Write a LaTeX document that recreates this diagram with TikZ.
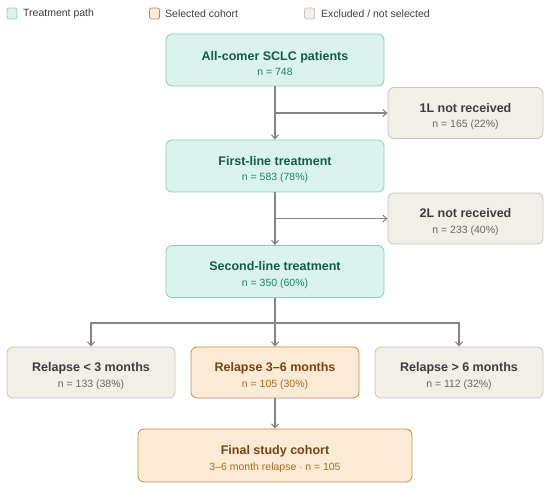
\documentclass[tikz,border=0pt]{standalone}
\usepackage{fontspec}
\setmainfont{Liberation Sans}
\usepackage{xcolor}
\usetikzlibrary{arrows.meta}

\definecolor{tealfill}{HTML}{DAF3EC}
\definecolor{tealline}{HTML}{86D1BC}
\definecolor{tealtext}{HTML}{145C4A}
\definecolor{tealsub}{HTML}{1E8468}
\definecolor{orfill}{HTML}{FDEBD5}
\definecolor{orline}{HTML}{C98846}
\definecolor{ortext}{HTML}{7E4213}
\definecolor{orsub}{HTML}{B56A22}
\definecolor{grfill}{HTML}{F2EEE8}
\definecolor{grline}{HTML}{C8C3BB}
\definecolor{grtext}{HTML}{3E3E3E}
\definecolor{grsub}{HTML}{6A6A6A}
\definecolor{linkgray}{HTML}{858585}

\newcommand{\boxlabel}[3]{{\fontsize{12.5}{14}\selectfont\bfseries\rule{0pt}{16pt}#1}\\[3.5pt]{\fontsize{10.5}{12}\selectfont\color{#3}#2}}

\tikzset{
    flowbox/.style={rectangle, rounded corners=6pt, line width=0.8pt, align=center, minimum height=52pt, inner sep=0pt},
    treat/.style={flowbox, fill=tealfill, draw=tealline, text=tealtext, minimum width=218pt},
    cohort/.style={flowbox, fill=orfill, draw=orline, text=ortext},
    excl/.style={flowbox, fill=grfill, draw=grline, text=grtext},
    link/.style={draw=linkgray, line width=1.1pt, -{Straight Barb[length=4pt,width=7pt]}},
    swatch/.style={rectangle, rounded corners=2pt, line width=0.7pt, minimum width=10pt, minimum height=11pt, inner sep=0pt},
    legtext/.style={anchor=west, inner sep=0pt, text=grtext, font=\fontsize{10.5}{12}\selectfont}
}

\begin{document}
\begin{tikzpicture}[x=1pt, y=-1pt]
    \useasboundingbox (0,0) rectangle (550,489);

    % Legend
    \node[swatch, fill=tealfill, draw=tealline] (sw1) at (12,13.5) {};
    \node[legtext] (lg1) at (23,13.5) {Treatment path};
    \node[swatch, fill=orfill, draw=orline] (sw2) at (154.5,13.5) {};
    \node[legtext] (lg2) at (165,13.5) {Selected cohort};
    \node[swatch, fill=grfill, draw=grline] (sw3) at (309.5,13.5) {};
    \node[legtext] (lg3) at (321,13.5) {Excluded / not selected};

    % Main treatment path
    \node[treat] (all) at (275,60) {\boxlabel{All-comer SCLC patients}{n = 748}{tealsub}};
    \node[treat] (first) at (275,166) {\boxlabel{First-line treatment}{n = 583 (78\%)}{tealsub}};
    \node[treat] (second) at (275,271.5) {\boxlabel{Second-line treatment}{n = 350 (60\%)}{tealsub}};

    % Excluded at each line
    \node[excl, minimum width=155pt, minimum height=51pt] (no1L) at (465.5,113) {\boxlabel{1L not received}{n = 165 (22\%)}{grsub}};
    \node[excl, minimum width=155pt, minimum height=51pt] (no2L) at (465.5,218.5) {\boxlabel{2L not received}{n = 233 (40\%)}{grsub}};

    % Relapse groups
    \node[excl, minimum width=168pt, minimum height=51pt] (early) at (91,372.5) {\boxlabel{Relapse < 3 months}{n = 133 (38\%)}{grsub}};
    \node[cohort, minimum width=168pt, minimum height=51pt] (mid) at (275,372.5) {\boxlabel{Relapse 3--6 months}{n = 105 (30\%)}{orsub}};
    \node[excl, minimum width=168pt, minimum height=51pt] (late) at (459,372.5) {\boxlabel{Relapse > 6 months}{n = 112 (32\%)}{grsub}};

    % Final cohort
    \node[cohort, minimum width=274pt, minimum height=53pt] (final) at (275,455.5) {\boxlabel{Final study cohort}{3--6 month relapse $\cdot$ n = 105}{orsub}};

    % Connectors
    \coordinate (split1) at (275,113);
    \coordinate (split2) at (275,218.5);
    \coordinate (split3) at (275,323);
    \draw[link] (all) -- (first);
    \draw[link] (split1) -- (no1L);
    \draw[link] (first) -- (second);
    \draw[link] (split2) -- (no2L);
    \draw[link, -] (second) -- (split3);
    \draw[link] (split3) -| (early.north);
    \draw[link] (split3) -- (mid);
    \draw[link] (split3) -| (late.north);
    \draw[link] (mid) -- (final);
\end{tikzpicture}
\end{document}
